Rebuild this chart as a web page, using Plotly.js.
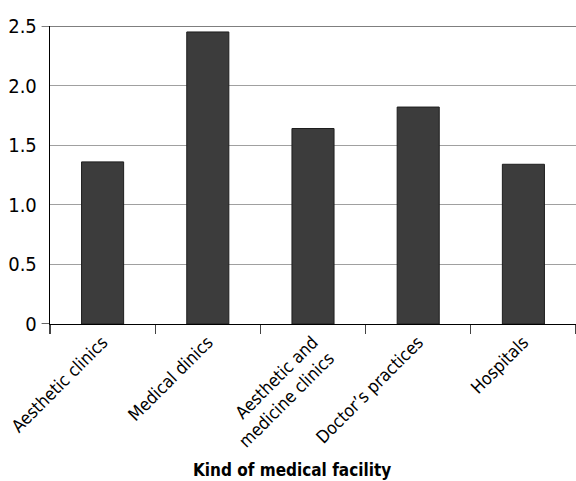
<!DOCTYPE html>
<html>
<head>
<meta charset="utf-8">
<script src="https://cdn.plot.ly/plotly-3.0.1.min.js"></script>
<style>html,body{margin:0;padding:0;background:#fff;}#chart{width:576px;height:481px;}</style>
</head>
<body>
<div id="chart"></div>
<script>
var categories = ["Aesthetic clinics", "Medical dinics", "Aesthetic and<br>medicine clinics", "Doctor’s practices", "Hospitals"];
var values = [1.36, 2.45, 1.64, 1.82, 1.34];
var yTickVals = [0, 0.5, 1.0, 1.5, 2.0, 2.5];
var yTickText = ["0", "0.5", "1.0", "1.5", "2.0", "2.5"];
var xTitle = "Kind of medical facility";

var FONT = "'Liberation Sans Narrow', 'DejaVu Sans Condensed', 'Arial Narrow', sans-serif";

var trace = {
  type: "bar",
  x: categories,
  y: values,
  marker: {color: "#3c3c3c", line: {color: "#1e1e1e", width: 1}},
  hoverinfo: "none"
};

var layout = {
  width: 576,
  height: 481,
  margin: {l: 50, r: 0, t: 26, b: 157},
  paper_bgcolor: "#ffffff",
  plot_bgcolor: "#ffffff",
  showlegend: false,
  bargap: 0.6,
  font: {family: FONT, color: "#000", size: 18},
  xaxis: {
    type: "category",
    tickangle: -45,
    tickson: "boundaries",
    ticks: "outside",
    ticklen: 9,
    tickwidth: 1.2,
    tickcolor: "#444",
    showline: true,
    linecolor: "#000",
    linewidth: 1.2,
    showgrid: false,
    tickfont: {family: FONT, size: 17.5, color: "#000"},
    fixedrange: true
  },
  yaxis: {
    range: [0, 2.5],
    tickvals: yTickVals,
    ticktext: yTickText,
    ticks: "",
    ticklabelstandoff: 8,
    showline: true,
    linecolor: "#000",
    linewidth: 1.2,
    showgrid: true,
    gridcolor: "#a0a0a0",
    gridwidth: 1,
    zeroline: false,
    tickfont: {family: FONT, size: 20, color: "#000"},
    fixedrange: true
  },
  shapes: [
    {type: "line", xref: "paper", yref: "y", x0: -0.016, x1: 1, y0: 2.5, y1: 2.5, line: {color: "#000", width: 1.2}},
    {type: "line", xref: "paper", yref: "y", x0: -0.016, x1: 0, y0: 0, y1: 0, line: {color: "#000", width: 1.2}}
  ],
  annotations: [
    {text: "<b>" + xTitle + "</b>", xref: "paper", yref: "paper", x: 0.46, y: -0.49,
     xanchor: "center", yanchor: "middle", showarrow: false,
     font: {family: FONT, size: 17, color: "#000"}}
  ]
};

Plotly.newPlot("chart", [trace], layout, {staticPlot: true, displayModeBar: false});
</script>
</body>
</html>
